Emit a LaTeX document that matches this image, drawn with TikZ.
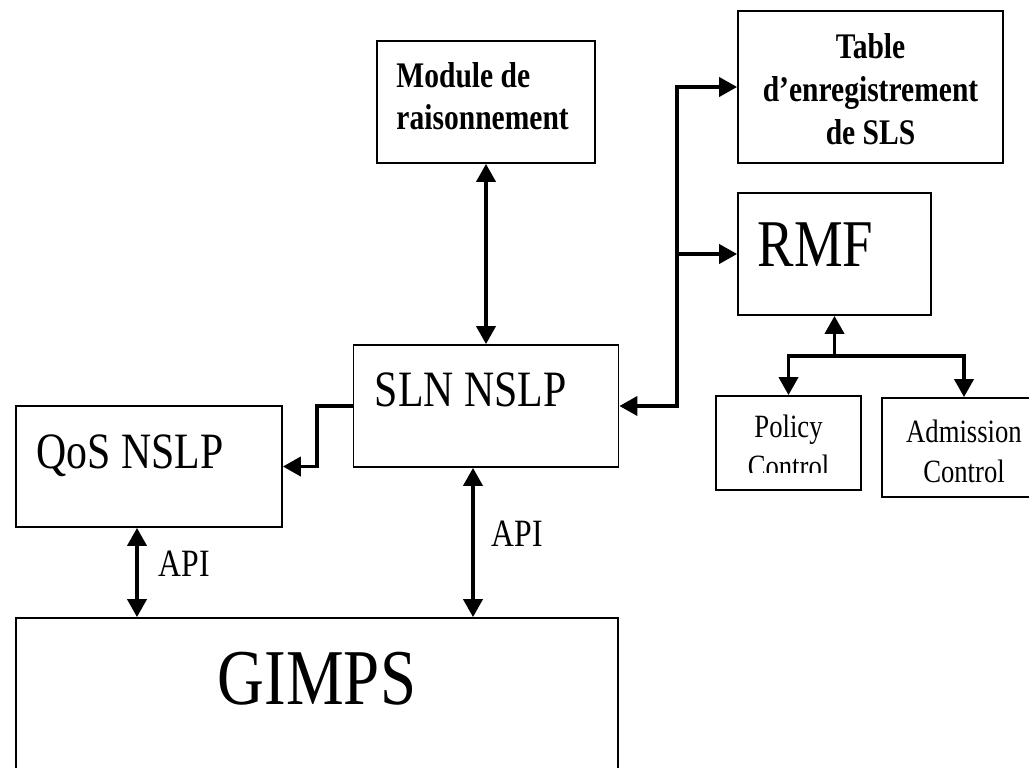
\documentclass[tikz,border=0pt]{standalone}
\usepackage{fontspec}
\setmainfont[FakeStretch=0.82]{Liberation Serif}
\usetikzlibrary{arrows.meta}

\begin{document}
\begin{tikzpicture}[
  block/.style={rectangle, draw, line width=1pt, inner sep=0pt},
  txt/.style={inner sep=0pt, anchor=north west},
  link/.style={line width=2.2pt, -{Triangle[length=0.36cm,width=0.38cm]}},
  duplex/.style={line width=2.2pt, {Triangle[length=0.36cm,width=0.38cm]}-{Triangle[length=0.36cm,width=0.38cm]}},
  lbl/.style={inner sep=0pt, anchor=west, font=\fontsize{22}{26}\selectfont},
  node distance=2cm
]
\useasboundingbox (0,0) rectangle (20.58,-15.36);
\clip (0,0) rectangle (20.58,-15.36);

\node[block, minimum width=4.36cm, minimum height=2.44cm] (mod) at (9.72,-2.04) {};
\node[block, below of=mod, node distance=6.08cm, minimum width=5.30cm, minimum height=2.44cm] (sln) {};
\node[block, minimum width=5.32cm, minimum height=2.42cm] (qos) at (2.98,-9.33) {};
\node[block, minimum width=12.04cm, minimum height=4cm] (gimps) at (6.34,-14.36) {};
\node[block, minimum width=5.30cm, minimum height=3.04cm] (tab) at (17.41,-1.74) {};
\node[block, minimum width=3.86cm, minimum height=2.44cm] (rmf) at (16.69,-5.08) {};
\node[block, minimum width=2.90cm, minimum height=1.88cm] (pol) at (15.77,-8.86) {};
\node[block, minimum width=3.28cm, minimum height=1.98cm] (adm) at (19.28,-8.95) {};

% box texts
\node[txt, align=left, font=\bfseries\fontsize{20.5}{24}\selectfont] (modtxt) at ([xshift=0.4cm,yshift=-0.44cm]mod.north west) {Module de\\raisonnement};
\node[txt, anchor=north, align=center, font=\bfseries\fontsize{20.5}{24.5}\selectfont] (tabtxt) at ([yshift=-0.46cm]tab.north) {Table\\d’enregistrement\\de SLS};
\node[txt, font=\fontsize{38}{44}\selectfont] (rmftxt) at ([xshift=0.4cm,yshift=-0.6cm]rmf.north west) {RMF};
\node[txt, font=\fontsize{29}{34}\selectfont] (slntxt) at ([xshift=0.44cm,yshift=-0.56cm]sln.north west) {SLN NSLP};
\node[txt, font=\fontsize{29}{34}\selectfont] (qostxt) at ([xshift=0.42cm,yshift=-0.58cm]qos.north west) {QoS NSLP};
\node[txt, anchor=north, font=\fontsize{45}{52}\selectfont] (gimpstxt) at ([yshift=-0.7cm]gimps.north) {GIMPS};
\begin{scope}
  \clip (pol.north west) rectangle ([yshift=0.36cm]pol.south east);
  \node[txt, anchor=north, align=center, font=\fontsize{18.5}{22.8}\selectfont] (poltxt) at ([yshift=-0.38cm]pol.north) {Policy\\Control};
\end{scope}
\node[txt, anchor=north, align=center, font=\fontsize{18.5}{22.8}\selectfont] (admtxt) at ([yshift=-0.44cm]adm.north) {Admission\\Control};

% connectors
\coordinate (bus) at (13.54,-5.08);
\coordinate (split) at ([yshift=-0.8cm]rmf.south);
\coordinate (qa) at ([xshift=-0.24cm]qos.south);
\coordinate (sa) at ([xshift=-0.26cm]sln.south);

\draw[duplex] (mod) -- (sln);
\draw[duplex] (sln.east) -| (bus) |- (tab.west);
\draw[link] (bus) -- (rmf.west);
\draw[link] (split) -- (split |- rmf.south);
\draw[duplex] (pol.north) |- (split) -| (adm.north);
\draw[link] (sln.west) -- ++(-0.72,0) |- (qos.east);
\draw[duplex] (qa) -- (qa |- gimps.north) node[lbl, pos=0.4, xshift=0.4cm] (api1) {API};
\draw[duplex] (sa) -- (sa |- gimps.north) node[lbl, pos=0.44, xshift=0.34cm] (api2) {API};
\end{tikzpicture}
\end{document}
